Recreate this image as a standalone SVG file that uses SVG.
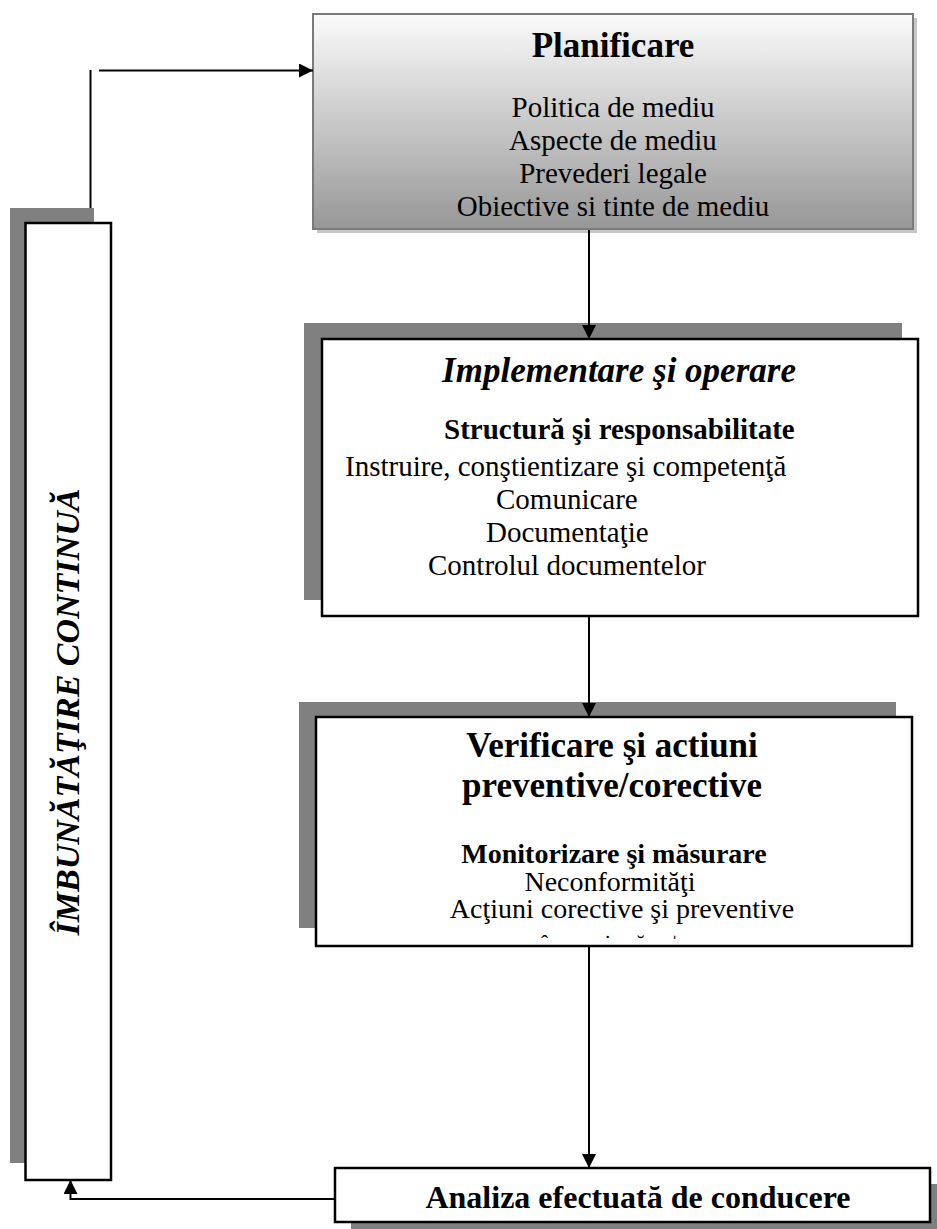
<svg xmlns="http://www.w3.org/2000/svg" width="937" height="1229" viewBox="0 0 937 1229">
  <defs>
    <linearGradient id="planGrad" x1="0" y1="0" x2="0" y2="1">
      <stop offset="0" stop-color="#fbfbfb"/>
      <stop offset="1" stop-color="#979797"/>
    </linearGradient>
    <marker id="arrow" viewBox="0 0 14 14" markerWidth="14" markerHeight="14" refX="14" refY="7" orient="auto" markerUnits="userSpaceOnUse">
      <path d="M0,0 L14,7 L0,14 z" fill="#000"/>
    </marker>
  </defs>
  <style>
    text { font-family: "Liberation Serif", "Times New Roman", serif; fill: #000; }
    .shadow { fill: #808080; }
    .box { fill: #fff; stroke: #000; stroke-width: 2.5; }
    .title { font-size: 35px; font-weight: bold; text-anchor: middle; }
    .body { font-size: 29px; }
    .bold { font-weight: bold; }
    .mid { text-anchor: middle; }
    .conn { stroke: #000; stroke-width: 2; fill: none; }
  </style>

  <rect width="937" height="1229" fill="#fff"/>

  <!-- continuous improvement column -->
  <g id="imbunatatire">
    <rect class="shadow" x="10" y="208" width="84" height="955"/>
    <rect class="box" x="25.5" y="223" width="85.5" height="957"/>
    <text transform="translate(79,712) rotate(-90)" text-anchor="middle" font-size="34" font-weight="bold" font-style="italic">ÎMBUNĂTĂŢIRE CONTINUĂ</text>
  </g>

  <!-- planning -->
  <g id="planificare">
    <rect x="317" y="18" width="600" height="215" fill="#c6c6c6"/>
    <rect x="313" y="14" width="600" height="215" fill="url(#planGrad)" stroke="#7a7a7a" stroke-width="2"/>
    <text class="title" x="613" y="57">Planificare</text>
    <text class="body mid" x="613" y="117">Politica de mediu</text>
    <text class="body mid" x="613" y="150">Aspecte de mediu</text>
    <text class="body mid" x="613" y="183">Prevederi legale</text>
    <text class="body mid" x="613" y="216">Obiective si tinte de mediu</text>
  </g>

  <!-- implementation -->
  <g id="implementare">
    <rect class="shadow" x="304" y="323" width="598" height="277"/>
    <rect class="box" x="322" y="339" width="596" height="277"/>
    <text class="title" x="619" y="382" font-style="italic">Implementare şi operare</text>
    <text class="body bold" x="444" y="439">Structură şi responsabilitate</text>
    <text class="body" x="345" y="476">Instruire, conştientizare şi competenţă</text>
    <text class="body" x="496" y="509">Comunicare</text>
    <text class="body" x="486" y="542">Documentaţie</text>
    <text class="body" x="428" y="575">Controlul documentelor</text>
  </g>

  <!-- checking -->
  <g id="verificare">
    <rect class="shadow" x="299" y="702" width="597" height="226"/>
    <rect class="box" x="316" y="717" width="596" height="229"/>
    <text class="title" x="612" y="757">Verificare şi actiuni</text>
    <text class="title" x="612" y="797">preventive/corective</text>
    <text class="bold mid" x="614" y="863" font-size="28">Monitorizare şi măsurare</text>
    <text class="mid" x="610" y="891" font-size="28">Neconformităţi</text>
    <text class="mid" x="622" y="918" font-size="28">Acţiuni corective şi preventive</text>
    <g font-size="22">
      <text x="541" y="950">ˆ</text>
      <text x="604" y="950">˙</text>
      <text x="637" y="950">˘</text>
      <text x="671" y="950">ˈ</text>
    </g>
  </g>

  <!-- management review -->
  <g id="analiza">
    <rect class="shadow" x="351" y="1184" width="595" height="54"/>
    <rect class="box" x="335" y="1168" width="595" height="54"/>
    <text class="mid bold" x="638" y="1208" font-size="32">Analiza efectuată de conducere</text>
  </g>

  <!-- connectors, drawn last so the arrowheads sit on top of the shadows -->
  <g id="connectors">
    <path class="conn" d="M90.5,208 V70"/>
    <path class="conn" d="M99,70.5 H313" marker-end="url(#arrow)"/>
    <path class="conn" d="M589,230 V339" marker-end="url(#arrow)"/>
    <path class="conn" d="M589,617 V717" marker-end="url(#arrow)"/>
    <path class="conn" d="M589,947 V1168" marker-end="url(#arrow)"/>
    <path class="conn" d="M335,1199 H70.5 V1180" marker-end="url(#arrow)"/>
  </g>
</svg>
